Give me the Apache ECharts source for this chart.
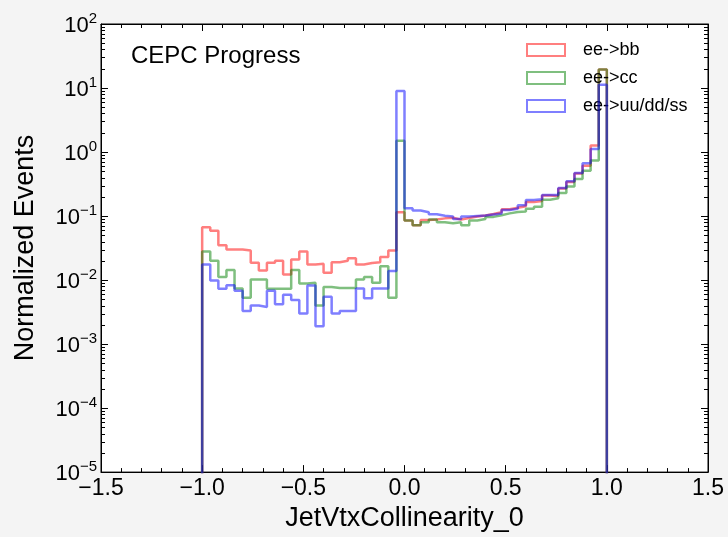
<!DOCTYPE html>
<html>
<head>
<meta charset="utf-8">
<script src="https://cdn.jsdelivr.net/npm/echarts@6/dist/echarts.min.js"></script>
<style>
html,body{margin:0;padding:0;background:#f4f4f4;}
#chart{width:728px;height:537px;}
</style>
</head>
<body>
<div id="chart"></div>
<script>
// Bin edges of the histogram (x values)
const binEdges = [-1.00,-0.96,-0.92,-0.88,-0.84,-0.80,-0.76,-0.72,-0.68,-0.64,-0.60,-0.56,-0.52,-0.48,-0.44,-0.40,-0.36,-0.32,-0.28,-0.24,-0.20,-0.16,-0.12,-0.08,-0.04,
  0.00,0.04,0.08,0.12,0.16,0.20,0.24,0.28,0.32,0.36,0.40,0.44,0.48,0.52,0.56,0.60,0.64,0.68,0.72,0.76,0.80,0.84,0.88,0.92,0.96,1.00];

const seriesNames = ['ee->bb', 'ee->cc', 'ee->uu/dd/ss'];

// Normalized events per bin
const bbValues = [0.067,0.059,0.035,0.030,0.030,0.029,0.0186,0.0141,0.0186,0.020,0.0122,0.021,0.028,0.0175,0.018,0.013,0.019,0.020,0.022,0.0175,0.0185,0.019,0.023,0.029,0.115,
  0.085,0.072,0.087,0.088,0.092,0.094,0.088,0.093,0.098,0.102,0.108,0.115,0.128,0.135,0.142,0.165,0.172,0.21,0.205,0.27,0.34,0.46,0.61,1.26,19.5];
const ccValues = [0.028,0.020,0.0112,0.0144,0.0074,0.0053,0.0102,0.0102,0.0073,0.0073,0.0073,0.0144,0.0088,0.0091,0.0040,0.0078,0.0075,0.0075,0.0075,0.0102,0.0112,0.0091,0.0165,0.0053,1.5,
  0.085,0.072,0.080,0.088,0.080,0.077,0.080,0.072,0.085,0.090,0.097,0.103,0.110,0.116,0.118,0.130,0.140,0.18,0.19,0.23,0.29,0.38,0.51,0.74,19.5];
const udsValues = [0.0175,0.0098,0.0073,0.0083,0.0068,0.0033,0.0040,0.0038,0.0068,0.0042,0.0059,0.0049,0.0030,0.0082,0.0019,0.0055,0.0030,0.0033,0.0033,0.0074,0.0052,0.0074,0.0074,0.0138,9.0,
  0.132,0.122,0.115,0.107,0.101,0.098,0.090,0.098,0.100,0.102,0.106,0.110,0.124,0.130,0.148,0.178,0.183,0.214,0.214,0.275,0.35,0.47,0.67,1.12,11.2];

const xTicks = [-1.5,-1.0,-0.5,0.0,0.5,1.0,1.5];

const colors = ['rgba(255,0,0,0.5)', 'rgba(0,128,0,0.5)', 'rgba(0,0,255,0.5)'];
const FLOOR = 1e-7;

function stepPoints(vals) {
  const pts = [[binEdges[0], FLOOR]];
  for (let i = 0; i < vals.length; i++) {
    pts.push([binEdges[i], vals[i]]);
    pts.push([binEdges[i + 1], vals[i]]);
  }
  pts.push([binEdges[binEdges.length - 1], FLOOR]);
  return pts;
}

const FONT = '"Liberation Sans", Arial, Helvetica, sans-serif';
const chart = echarts.init(document.getElementById('chart'), null, {renderer: 'canvas'});

function fmtX(v) {
  const s = Math.abs(v).toFixed(1);
  return (v < -1e-9 ? '\u2212' : '') + s;
}
function fmtY(v) {
  const e = Math.round(Math.log10(v));
  return '{b|10}{s|' + (e < 0 ? '\u2212' + (-e) : e) + '}';
}

const allVals = [bbValues, ccValues, udsValues];
const lineSeries = allVals.map((vals, k) => ({
  name: seriesNames[k],
  type: 'line',
  data: stepPoints(vals),
  showSymbol: false,
  symbol: 'none',
  clip: true,
  lineStyle: {color: colors[k], width: 2.5},
  itemStyle: {color: colors[k]},
  z: 2 + k
}));

// minor ticks for the log y axis (left and right), via axis scales
const minorSeries = {
  type: 'custom',
  silent: true,
  clip: false,
  z: 10,
  data: [[0, 1]],
  renderItem: function (params, api) {
    const cs = params.coordSys;
    const children = [];
    for (let e = -5; e < 2; e++) {
      for (let m = 2; m <= 9; m++) {
        const v = m * Math.pow(10, e);
        const y = Math.round(api.coord([0, v])[1]) + 0.5;
        children.push({type: 'line', shape: {x1: cs.x, y1: y, x2: cs.x + 4, y2: y}, style: {stroke: '#000', lineWidth: 1}});
        children.push({type: 'line', shape: {x1: cs.x + cs.width - 4, y1: y, x2: cs.x + cs.width, y2: y}, style: {stroke: '#000', lineWidth: 1}});
      }
    }
    return {type: 'group', children: children};
  }
};

const option = {
  animation: false,
  backgroundColor: '#f4f4f4',
  textStyle: {fontFamily: FONT},
  grid: {left: 101, right: 20, top: 24, bottom: 61, show: true, backgroundColor: '#ffffff', borderColor: '#000', borderWidth: 1, containLabel: false},
  legend: {
    orient: 'vertical',
    left: 526,
    top: 41,
    padding: 0,
    itemWidth: 38,
    itemHeight: 12,
    itemGap: 10,
    textStyle: {fontSize: 18, color: '#000', fontFamily: FONT, padding: [0, 0, 0, 13]},
    data: seriesNames.map((n, k) => ({
      name: n,
      icon: 'rect',
      itemStyle: {color: 'rgba(0,0,0,0)', borderColor: colors[k], borderWidth: 2}
    }))
  },
  graphic: [{
    type: 'text',
    left: 131,
    top: 44,
    style: {text: 'CEPC Progress', font: '24px ' + FONT, fill: '#000'}
  }],
  xAxis: [{
    type: 'value',
    min: -1.5, max: 1.5, interval: 0.5,
    name: 'JetVtxCollinearity_0',
    nameLocation: 'middle',
    nameGap: 32,
    nameTextStyle: {fontSize: 27, color: '#000', fontFamily: FONT},
    axisLine: {show: true, onZero: false, lineStyle: {color: '#000', width: 1}},
    axisTick: {show: true, inside: true, length: 7, lineStyle: {color: '#000'}},
    minorTick: {show: true, splitNumber: 5, length: 4, lineStyle: {color: '#000'}},
    splitLine: {show: false},
    axisLabel: {fontSize: 23, color: '#000', margin: 5, formatter: fmtX, fontFamily: FONT, showMinLabel: true, showMaxLabel: true}
  }, {
    type: 'value',
    position: 'top',
    min: -1.5, max: 1.5, interval: 0.5,
    axisLine: {show: true, onZero: false, lineStyle: {color: '#000', width: 1}},
    axisTick: {show: true, inside: true, length: 7, lineStyle: {color: '#000'}},
    minorTick: {show: true, splitNumber: 5, length: 4, lineStyle: {color: '#000'}},
    splitLine: {show: false},
    axisLabel: {show: false}
  }],
  yAxis: [{
    type: 'log',
    logBase: 10,
    min: 1e-5, max: 1e2,
    splitNumber: 7,
    name: 'Normalized Events',
    nameLocation: 'middle',
    nameGap: 62,
    nameTextStyle: {fontSize: 27, color: '#000', fontFamily: FONT},
    axisLine: {show: true, onZero: false, lineStyle: {color: '#000', width: 1}},
    axisTick: {show: true, inside: true, length: 7, lineStyle: {color: '#000'}},
    splitLine: {show: false},
    axisLabel: {
      margin: 4,
      formatter: fmtY,
      rich: {
        b: {fontSize: 22, color: '#000', fontFamily: FONT, verticalAlign: 'bottom', lineHeight: 26},
        s: {fontSize: 15, color: '#000', fontFamily: FONT, verticalAlign: 'top', lineHeight: 26, padding: [0, 0, 11, 0]}
      }
    }
  }, {
    type: 'log',
    logBase: 10,
    position: 'right',
    min: 1e-5, max: 1e2,
    splitNumber: 7,
    axisLine: {show: true, onZero: false, lineStyle: {color: '#000', width: 1}},
    axisTick: {show: true, inside: true, length: 7, lineStyle: {color: '#000'}},
    splitLine: {show: false},
    axisLabel: {show: false}
  }],
  series: lineSeries.concat([minorSeries])
};
chart.setOption(option);
</script>
</body>
</html>
